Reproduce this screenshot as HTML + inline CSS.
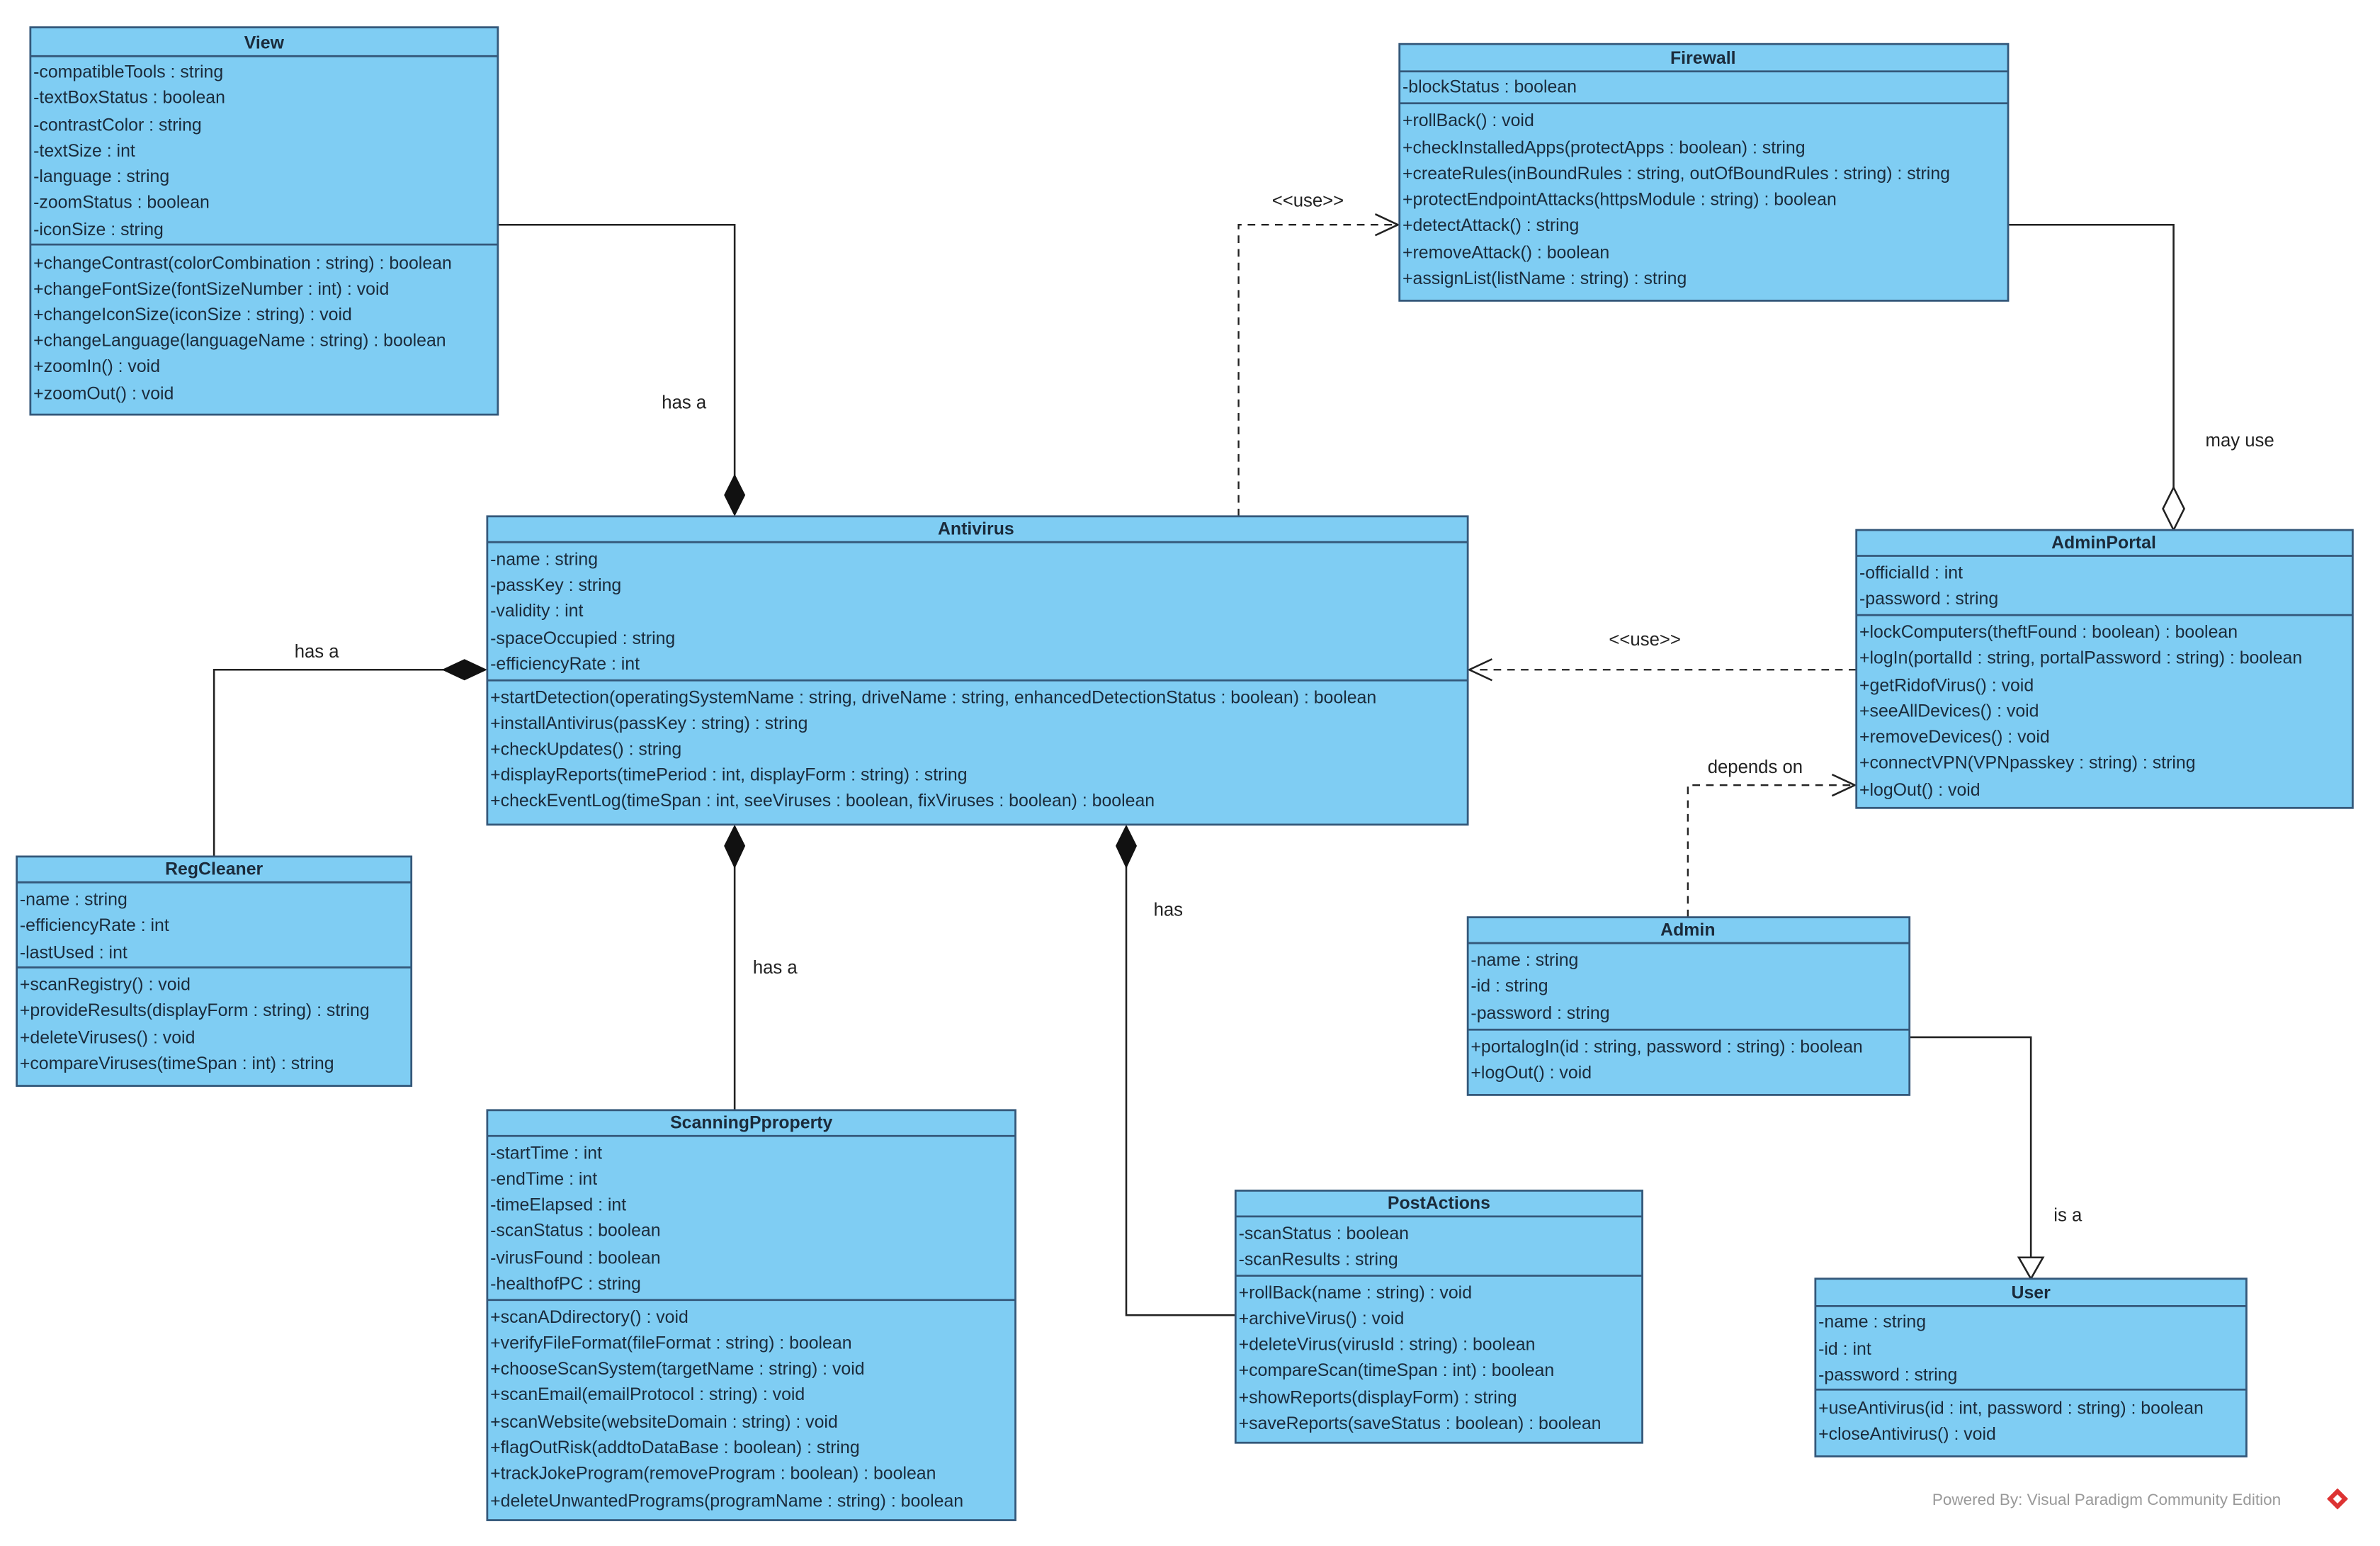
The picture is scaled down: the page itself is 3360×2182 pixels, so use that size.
<!DOCTYPE html>
<html><head><meta charset="utf-8"><style>
html,body{margin:0;padding:0;background:#fff;}
svg{display:block;}
text{font-family:"Liberation Sans",Arial,sans-serif;font-size:11.6px;fill:#1b2b3b;}
.t{font-weight:bold;text-anchor:middle;}
.b{fill:#7fcdf3;stroke:#34587a;stroke-width:1.3;}
.d{stroke:#34587a;stroke-width:1.3;}
.l{fill:none;stroke:#222;stroke-width:1.2;}
.ds{fill:none;stroke:#222;stroke-width:1.1;stroke-dasharray:5,4;}
.lb{fill:#222;font-size:12px;}
</style></head><body>
<svg width="3360" height="2182" viewBox="0 0 1568 1018" preserveAspectRatio="none" xmlns="http://www.w3.org/2000/svg">
<rect width="1568" height="1018" fill="#fff"/>

<!-- connectors -->
<polyline class="l" points="328,148 484,148 484,314"/>
<polygon points="484,312 491,326 484,340 477,326" fill="#111"/>
<text class="lb" x="436" y="269">has a</text>

<polyline class="ds" points="816,340 816,148 918,148"/>
<polyline class="l" points="906,141 921,148 906,155"/>
<text class="lb" x="838" y="136">&lt;&lt;use&gt;&gt;</text>

<polyline class="l" points="1323,148 1432,148 1432,321"/>
<polygon points="1432,321 1439,335 1432,349 1425,335" fill="#fff" stroke="#222" stroke-width="1.2"/>
<text class="lb" x="1453" y="294">may use</text>

<polyline class="ds" points="1223,441 972,441"/>
<polyline class="l" points="983,434 968,441 983,448"/>
<text class="lb" x="1060" y="425">&lt;&lt;use&gt;&gt;</text>

<polyline class="l" points="141,564 141,441 293,441"/>
<polygon points="291,441 306,434 321,441 306,448" fill="#111"/>
<text class="lb" x="194" y="433">has a</text>

<polyline class="l" points="484,731 484,570"/>
<polygon points="484,543 491,557 484,572 477,557" fill="#111"/>
<text class="lb" x="496" y="641">has a</text>

<polyline class="l" points="814,866 742,866 742,570"/>
<polygon points="742,543 749,557 742,572 735,557" fill="#111"/>
<text class="lb" x="760" y="603">has</text>

<polyline class="ds" points="1112,604 1112,517 1219,517"/>
<polyline class="l" points="1207,510 1222,517 1207,524"/>
<text class="lb" x="1125" y="509">depends on</text>

<polyline class="l" points="1258,683 1338,683 1338,828"/>
<polygon points="1330,828 1346,828 1338,842" fill="#fff" stroke="#222" stroke-width="1.2"/>
<text class="lb" x="1353" y="804">is a</text>

<!-- View -->
<rect class="b" x="20" y="18" width="308" height="255"/>
<line class="d" x1="20" y1="37" x2="328" y2="37"/>
<line class="d" x1="20" y1="161" x2="328" y2="161"/>
<text class="t" x="174" y="32">View</text>
<text x="22" y="51">-compatibleTools : string</text>
<text x="22" y="68">-textBoxStatus : boolean</text>
<text x="22" y="86">-contrastColor : string</text>
<text x="22" y="103">-textSize : int</text>
<text x="22" y="120">-language : string</text>
<text x="22" y="137">-zoomStatus : boolean</text>
<text x="22" y="155">-iconSize : string</text>
<text x="22" y="177">+changeContrast(colorCombination : string) : boolean</text>
<text x="22" y="194">+changeFontSize(fontSizeNumber : int) : void</text>
<text x="22" y="211">+changeIconSize(iconSize : string) : void</text>
<text x="22" y="228">+changeLanguage(languageName : string) : boolean</text>
<text x="22" y="245">+zoomIn() : void</text>
<text x="22" y="263">+zoomOut() : void</text>

<!-- Firewall -->
<rect class="b" x="922" y="29" width="401" height="169"/>
<line class="d" x1="922" y1="47" x2="1323" y2="47"/>
<line class="d" x1="922" y1="68" x2="1323" y2="68"/>
<text class="t" x="1122" y="42">Firewall</text>
<text x="924" y="61">-blockStatus : boolean</text>
<text x="924" y="83">+rollBack() : void</text>
<text x="924" y="101">+checkInstalledApps(protectApps : boolean) : string</text>
<text x="924" y="118">+createRules(inBoundRules : string, outOfBoundRules : string) : string</text>
<text x="924" y="135">+protectEndpointAttacks(httpsModule : string) : boolean</text>
<text x="924" y="152">+detectAttack() : string</text>
<text x="924" y="170">+removeAttack() : boolean</text>
<text x="924" y="187">+assignList(listName : string) : string</text>

<!-- Antivirus -->
<rect class="b" x="321" y="340" width="646" height="203"/>
<line class="d" x1="321" y1="357" x2="967" y2="357"/>
<line class="d" x1="321" y1="448" x2="967" y2="448"/>
<text class="t" x="643" y="352">Antivirus</text>
<text x="323" y="372">-name : string</text>
<text x="323" y="389">-passKey : string</text>
<text x="323" y="406">-validity : int</text>
<text x="323" y="424">-spaceOccupied : string</text>
<text x="323" y="441">-efficiencyRate : int</text>
<text x="323" y="463">+startDetection(operatingSystemName : string, driveName : string, enhancedDetectionStatus : boolean) : boolean</text>
<text x="323" y="480">+installAntivirus(passKey : string) : string</text>
<text x="323" y="497">+checkUpdates() : string</text>
<text x="323" y="514">+displayReports(timePeriod : int, displayForm : string) : string</text>
<text x="323" y="531">+checkEventLog(timeSpan : int, seeViruses : boolean, fixViruses : boolean) : boolean</text>

<!-- AdminPortal -->
<rect class="b" x="1223" y="349" width="327" height="183"/>
<line class="d" x1="1223" y1="366" x2="1550" y2="366"/>
<line class="d" x1="1223" y1="405" x2="1550" y2="405"/>
<text class="t" x="1386" y="361">AdminPortal</text>
<text x="1225" y="381">-officialId : int</text>
<text x="1225" y="398">-password : string</text>
<text x="1225" y="420">+lockComputers(theftFound : boolean) : boolean</text>
<text x="1225" y="437">+logIn(portalId : string, portalPassword : string) : boolean</text>
<text x="1225" y="455">+getRidofVirus() : void</text>
<text x="1225" y="472">+seeAllDevices() : void</text>
<text x="1225" y="489">+removeDevices() : void</text>
<text x="1225" y="506">+connectVPN(VPNpasskey : string) : string</text>
<text x="1225" y="524">+logOut() : void</text>

<!-- RegCleaner -->
<rect class="b" x="11" y="564" width="260" height="151"/>
<line class="d" x1="11" y1="581" x2="271" y2="581"/>
<line class="d" x1="11" y1="637" x2="271" y2="637"/>
<text class="t" x="141" y="576">RegCleaner</text>
<text x="13" y="596">-name : string</text>
<text x="13" y="613">-efficiencyRate : int</text>
<text x="13" y="631">-lastUsed : int</text>
<text x="13" y="652">+scanRegistry() : void</text>
<text x="13" y="669">+provideResults(displayForm : string) : string</text>
<text x="13" y="687">+deleteViruses() : void</text>
<text x="13" y="704">+compareViruses(timeSpan : int) : string</text>

<!-- ScanningPproperty -->
<rect class="b" x="321" y="731" width="348" height="270"/>
<line class="d" x1="321" y1="748" x2="669" y2="748"/>
<line class="d" x1="321" y1="856" x2="669" y2="856"/>
<text class="t" x="495" y="743">ScanningPproperty</text>
<text x="323" y="763">-startTime : int</text>
<text x="323" y="780">-endTime : int</text>
<text x="323" y="797">-timeElapsed : int</text>
<text x="323" y="814">-scanStatus : boolean</text>
<text x="323" y="832">-virusFound : boolean</text>
<text x="323" y="849">-healthofPC : string</text>
<text x="323" y="871">+scanADdirectory() : void</text>
<text x="323" y="888">+verifyFileFormat(fileFormat : string) : boolean</text>
<text x="323" y="905">+chooseScanSystem(targetName : string) : void</text>
<text x="323" y="922">+scanEmail(emailProtocol : string) : void</text>
<text x="323" y="940">+scanWebsite(websiteDomain : string) : void</text>
<text x="323" y="957">+flagOutRisk(addtoDataBase : boolean) : string</text>
<text x="323" y="974">+trackJokeProgram(removeProgram : boolean) : boolean</text>
<text x="323" y="992">+deleteUnwantedPrograms(programName : string) : boolean</text>

<!-- PostActions -->
<rect class="b" x="814" y="784" width="268" height="166"/>
<line class="d" x1="814" y1="801" x2="1082" y2="801"/>
<line class="d" x1="814" y1="840" x2="1082" y2="840"/>
<text class="t" x="948" y="796">PostActions</text>
<text x="816" y="816">-scanStatus : boolean</text>
<text x="816" y="833">-scanResults : string</text>
<text x="816" y="855">+rollBack(name : string) : void</text>
<text x="816" y="872">+archiveVirus() : void</text>
<text x="816" y="889">+deleteVirus(virusId : string) : boolean</text>
<text x="816" y="906">+compareScan(timeSpan : int) : boolean</text>
<text x="816" y="924">+showReports(displayForm) : string</text>
<text x="816" y="941">+saveReports(saveStatus : boolean) : boolean</text>

<!-- Admin -->
<rect class="b" x="967" y="604" width="291" height="117"/>
<line class="d" x1="967" y1="621" x2="1258" y2="621"/>
<line class="d" x1="967" y1="678" x2="1258" y2="678"/>
<text class="t" x="1112" y="616">Admin</text>
<text x="969" y="636">-name : string</text>
<text x="969" y="653">-id : string</text>
<text x="969" y="671">-password : string</text>
<text x="969" y="693">+portalogIn(id : string, password : string) : boolean</text>
<text x="969" y="710">+logOut() : void</text>

<!-- User -->
<rect class="b" x="1196" y="842" width="284" height="117"/>
<line class="d" x1="1196" y1="860" x2="1480" y2="860"/>
<line class="d" x1="1196" y1="915" x2="1480" y2="915"/>
<text class="t" x="1338" y="855">User</text>
<text x="1198" y="874">-name : string</text>
<text x="1198" y="892">-id : int</text>
<text x="1198" y="909">-password : string</text>
<text x="1198" y="931">+useAntivirus(id : int, password : string) : boolean</text>
<text x="1198" y="948">+closeAntivirus() : void</text>

<!-- footer -->
<text x="1273" y="991" style="fill:#999;font-size:10.5px;">Powered By: Visual Paradigm Community Edition</text>
<polygon points="1540,980 1547,987 1540,994 1533,987" fill="#d33"/>
<polygon points="1540,984 1543,987 1540,990 1537,987" fill="#fff"/>
</svg>
</body></html>
